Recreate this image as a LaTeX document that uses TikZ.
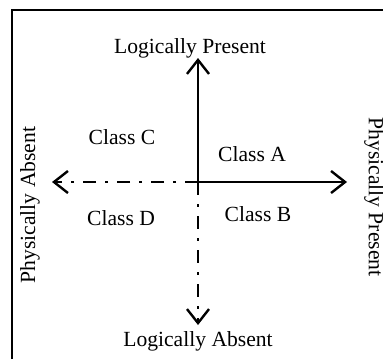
\documentclass[tikz,border=0pt]{standalone}
\usepackage{fontspec}
\setmainfont{Liberation Serif}
\usetikzlibrary{arrows.meta}

\begin{document}
\begin{tikzpicture}[x=0.5pt, y=-0.5pt,
      axis/.style={-{Straight Barb[length=7pt, width=11pt, line width=1.2pt]}, line width=1.2pt},
      absent/.style={axis, dash pattern=on 6.5pt off 4.5pt on 1.5pt off 4.5pt},
      lbl/.style={font=\fontsize{10.8}{12}\selectfont, inner sep=0pt},
      frm/.style={line width=0.6pt}]

    % ---- Layout ----
    \def\ox{198}   % axis x
    \def\oy{182}   % axis y

    \useasboundingbox (0,0) rectangle (383,359);
    \draw[frm] (12,359) -- (12,10) -- (383,10);

    % ---- axis ends ----
    \coordinate (o)  at (\ox, \oy);
    \coordinate (up) at (\ox, 58);
    \coordinate (dn) at (\ox, 325);
    \coordinate (lt) at (52, \oy);
    \coordinate (rt) at (347, \oy);

    % ---- axes ----
    \draw[axis]   (o) -- (up);
    \draw[axis]   (o) -- (rt);
    \draw[absent] (o) -- (lt);
    \draw[absent] (o) -- (dn);

    % ---- axis labels ----
    \node[lbl] (lpres) at (190, 48)  {Logically Present};
    \node[lbl] (labs)  at (198, 341) {Logically Absent};
    \node[lbl, rotate=90]  (pabs)  at (30, 205)  {Physically Absent};
    \node[lbl, rotate=-90] (ppres) at (374, 197) {Physically Present};

    % ---- quadrants ----
    \node[lbl] (clsC) at (122, 137) {Class C};
    \node[lbl] (clsA) at (252, 154) {Class A};
    \node[lbl] (clsD) at (121, 218) {Class D};
    \node[lbl] (clsB) at (258, 214) {Class B};

\end{tikzpicture}
\end{document}
